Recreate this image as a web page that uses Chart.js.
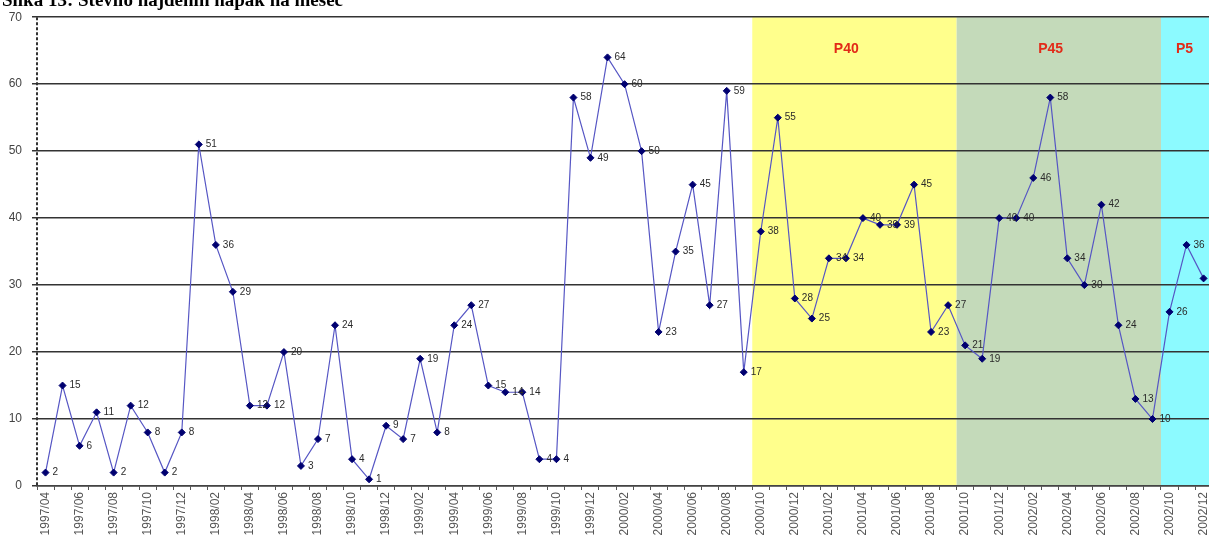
<!DOCTYPE html>
<html>
<head>
<meta charset="utf-8">
<script src="https://cdn.jsdelivr.net/npm/chart.js@4.4.1/dist/chart.umd.min.js"></script>
<style>
  html, body { margin: 0; padding: 0; background: #fff; overflow: hidden; }
  #wrap { position: absolute; left: 0; top: 0; width: 1220px; height: 545px; }
</style>
</head>
<body>
<div id="wrap"><canvas id="chart"></canvas></div>
<script>
// Monthly categories (every second one is labelled on the axis)
const months = [
  '1997/04','1997/05','1997/06','1997/07','1997/08','1997/09','1997/10','1997/11','1997/12',
  '1998/01','1998/02','1998/03','1998/04','1998/05','1998/06','1998/07','1998/08','1998/09','1998/10','1998/11','1998/12',
  '1999/01','1999/02','1999/03','1999/04','1999/05','1999/06','1999/07','1999/08','1999/09','1999/10','1999/11','1999/12',
  '2000/01','2000/02','2000/03','2000/04','2000/05','2000/06','2000/07','2000/08','2000/09','2000/10','2000/11','2000/12',
  '2001/01','2001/02','2001/03','2001/04','2001/05','2001/06','2001/07','2001/08','2001/09','2001/10','2001/11','2001/12',
  '2002/01','2002/02','2002/03','2002/04','2002/05','2002/06','2002/07','2002/08','2002/09','2002/10','2002/11','2002/12'
];

// Number of errors found per month
const errors = [
  2, 15, 6, 11, 2, 12, 8, 2, 8,
  51, 36, 29, 12, 12, 20, 3, 7, 24, 4, 1, 9,
  7, 19, 8, 24, 27, 15, 14, 14, 4, 4, 58, 49,
  64, 60, 50, 23, 35, 45, 27, 59, 17, 38, 55, 28,
  25, 34, 34, 40, 39, 39, 45, 23, 27, 21, 19, 40,
  40, 46, 58, 34, 30, 42, 24, 13, 10, 26, 36, 31
];

// Y axis ticks
const yTicks = [0, 10, 20, 30, 40, 50, 60, 70];

// Project periods shaded behind the line
const periodNames = ['P40', 'P45', 'P5'];
const periodStart = ['2000/10', '2001/10', '2002/10'];
const periodEnd   = ['2001/09', '2002/09', '2002/12'];

const titleText = 'Slika 13: Število najdenih napak na mesec';

const periodFill = ['rgb(255,255,140)', 'rgb(196,218,186)', 'rgb(140,250,255)'];

const FONT = '"Liberation Sans", Arial, sans-serif';

function bandEdges(chart, i) {
  const { chartArea: a, scales: { x } } = chart;
  const step = x.getPixelForValue(1) - x.getPixelForValue(0);
  const si = months.indexOf(periodStart[i]);
  const ei = months.indexOf(periodEnd[i]);
  const left = x.getPixelForValue(si) - step / 2;
  const right = Math.min(a.right, x.getPixelForValue(ei) + step / 2);
  return [left, right];
}

const periodBands = {
  id: 'periodBands',
  beforeDraw(chart) {
    const { ctx, chartArea: a } = chart;
    ctx.save();
    periodNames.forEach((name, i) => {
      const [left, right] = bandEdges(chart, i);
      ctx.fillStyle = periodFill[i];
      ctx.fillRect(left, a.top, right - left, a.bottom - a.top);
    });
    ctx.restore();
  },
  afterDatasetsDraw(chart) {
    const { ctx, chartArea: a } = chart;
    ctx.save();
    ctx.font = 'bold 14px ' + FONT;
    ctx.fillStyle = '#e22a18';
    ctx.textAlign = 'center';
    ctx.textBaseline = 'middle';
    periodNames.forEach((name, i) => {
      const [left, right] = bandEdges(chart, i);
      ctx.fillText(name, left + (right - left) * 0.46, a.top + 32);
    });
    ctx.restore();
  }
};

const valueLabels = {
  id: 'valueLabels',
  afterDatasetsDraw(chart) {
    const { ctx } = chart;
    const meta = chart.getDatasetMeta(0);
    ctx.save();
    ctx.font = '10px ' + FONT;
    ctx.fillStyle = '#2a2a2a';
    ctx.textAlign = 'left';
    ctx.textBaseline = 'middle';
    meta.data.forEach((pt, i) => {
      ctx.fillText(String(errors[i]), pt.x + 7, pt.y);
    });
    ctx.restore();
  }
};

const frame = {
  id: 'frame',
  afterDraw(chart) {
    const { ctx, chartArea: a } = chart;
    ctx.save();
    // dashed vertical value axis
    ctx.strokeStyle = '#333';
    ctx.lineWidth = 2;
    ctx.setLineDash([3, 2]);
    ctx.beginPath();
    ctx.moveTo(a.left, a.top);
    ctx.lineTo(a.left, a.bottom);
    ctx.stroke();
    ctx.setLineDash([]);
    // title, partly above the top edge
    ctx.font = 'bold 19px "Liberation Serif", "Times New Roman", serif';
    ctx.fillStyle = '#000';
    ctx.textAlign = 'left';
    ctx.textBaseline = 'alphabetic';
    ctx.fillText(titleText, 2, 6);
    ctx.restore();
  }
};

new Chart(document.getElementById('chart'), {
  type: 'line',
  data: {
    labels: months,
    datasets: [{
      data: errors,
      borderColor: '#5656c4',
      borderWidth: 1.2,
      pointStyle: 'rectRot',
      pointRadius: 3.5,
      pointBackgroundColor: '#000070',
      pointBorderColor: '#000070',
      pointBorderWidth: 1,
      tension: 0,
      fill: false
    }]
  },
  options: {
    responsive: true,
    maintainAspectRatio: false,
    animation: false,
    events: [],
    layout: { padding: { top: 15, right: 0, bottom: 0, left: 0 } },
    plugins: {
      legend: { display: false },
      title: { display: false },
      tooltip: { enabled: false }
    },
    scales: {
      x: {
        type: 'category',
        offset: true,
        afterFit(s) { s.height = 59; },
        grid: {
          offset: true,
          drawOnChartArea: false,
          drawTicks: true,
          tickLength: 4,
          color: '#555',
          lineWidth: 1
        },
        border: { display: true, color: '#444', width: 1.5 },
        ticks: {
          autoSkip: false,
          maxRotation: 90,
          minRotation: 90,
          padding: 2,
          color: '#555',
          font: { family: FONT, size: 12 },
          callback(v, i) { return i % 2 === 0 ? months[i] : ''; }
        }
      },
      y: {
        min: 0,
        max: 70,
        afterFit(s) { s.width = 37; },
        afterBuildTicks(s) { s.ticks = yTicks.map(v => ({ value: v })); },
        grid: {
          color: '#333',
          lineWidth: 1.5,
          drawTicks: true,
          tickLength: 5
        },
        border: { display: false },
        ticks: {
          padding: 10,
          color: '#444',
          font: { family: FONT, size: 12 }
        }
      }
    }
  },
  plugins: [periodBands, valueLabels, frame]
});
</script>
</body>
</html>
